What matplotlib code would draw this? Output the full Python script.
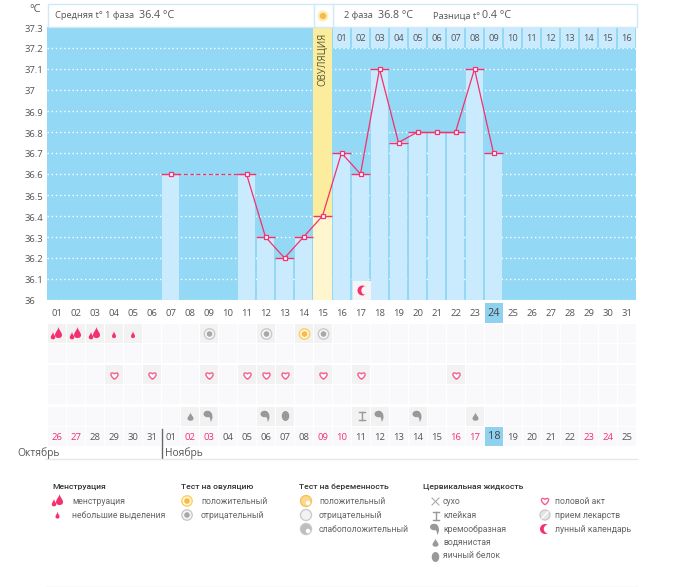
import matplotlib
matplotlib.use("Agg")
import matplotlib.pyplot as plt
from matplotlib.patches import Rectangle, Circle, Ellipse, PathPatch
from matplotlib.path import Path

# ---------- data ----------
days = [7, 11, 12, 13, 14, 15, 16, 17, 18, 19, 20, 21, 22, 23, 24]
temps = [36.6, 36.6, 36.3, 36.2, 36.3, 36.4, 36.7, 36.6, 37.1, 36.75, 36.8, 36.8, 36.8, 37.1, 36.7]
ovulation_day = 15
y_ticks = [36, 36.1, 36.2, 36.3, 36.4, 36.5, 36.6, 36.7, 36.8, 36.9, 37, 37.1, 37.2, 37.3]
y_labels = ["36", "36.1", "36.2", "36.3", "36.4", "36.5", "36.6", "36.7", "36.8", "36.9", "37", "37.1", "37.2", "37.3"]
phase2_labels = [f"{i:02d}" for i in range(1, 17)]
cycle_days = list(range(1, 32))
calendar_labels = ["26", "27", "28", "29", "30", "31"] + [f"{i:02d}" for i in range(1, 26)]
red_dates = {"26", "27", "02", "03", "09", "10", "16", "17", "23", "24"}
today = 24

menses_heavy = [1, 2, 3]
menses_light = [4, 5]
ovu_negative = [9, 12, 15]
ovu_positive = [14]
intercourse = [4, 6, 9, 11, 12, 13, 15, 17, 22]
fluid_watery = [8, 23]
fluid_creamy = [9, 12, 18, 20]
fluid_egg = [13]
fluid_sticky = [17]
moon_days = [17]

legend_groups = [
    ("Менструация", 52, 72, ["менструация", "небольшие выделения"]),
    ("Тест на овуляцию", 181, 201, ["положительный", "отрицательный"]),
    ("Тест на беременность", 299, 319, ["положительный", "отрицательный", "слабоположительный"]),
    ("Цервикальная жидкость", 423, 443, ["сухо", "клейкая", "кремообразная", "водянистая", "яичный белок"]),
    ("", 0, 555, ["половой акт", "прием лекарств", "лунный календарь"]),
]

# ---------- palette ----------
SKY = "#93d8f5"
PALE = "#c9ebfd"
PINK = "#f5306e"
TXT = "#555555"
GREY = "#999999"

W, H = 675, 587
plt.rcParams["font.family"] = ["Open Sans", "DejaVu Sans"]
fig = plt.figure(figsize=(W / 100, H / 100), dpi=100, facecolor="white")

# ---------- pixel overlays ----------
under = fig.add_axes([0, 0, 1, 1], zorder=0)
under.set_xlim(0, W); under.set_ylim(H, 0); under.axis("off")
px = fig.add_axes([0, 0, 1, 1], zorder=5)
px.set_xlim(0, W); px.set_ylim(H, 0); px.axis("off"); px.patch.set_alpha(0)


def t(x, y, s, size=9.3, color=TXT, ha="left", **kw):
    px.text(x, y, s, fontsize=size * 0.72, color=color, ha=ha, va="center", **kw)


def colx(d):
    return 57 + 19 * (d - 1)


def drop(cx, cy, w, h, color=PINK, ax=px):
    top, bot = cy - h / 2, cy + h / 2
    verts = [(cx, top), (cx + w * 0.1, top + h * 0.3), (cx + w / 2, top + h * 0.45), (cx + w / 2, top + h * 0.68),
             (cx + w / 2, bot), (cx - w / 2, bot), (cx - w / 2, top + h * 0.68),
             (cx - w / 2, top + h * 0.45), (cx - w * 0.1, top + h * 0.3), (cx, top)]
    codes = [Path.MOVETO] + [Path.CURVE4] * 9
    ax.add_patch(PathPatch(Path(verts, codes), fc=color, ec="none"))


def flame(cx, cy):
    drop(cx + 1.5, cy - 1, 7, 12)
    drop(cx - 4, cy + 2, 4.5, 8)


def small_drop(cx, cy):
    drop(cx, cy, 4, 7.5)


def ovu_test(cx, cy, positive):
    ring = "#fbd05a" if positive else "#c9c9c9"
    core = "#f7b84d" if positive else "#a8a8a8"
    px.add_patch(Circle((cx, cy), 5.2, fc="#fff7dc" if positive else "#f7f7f7", ec=ring, lw=1.0))
    px.add_patch(Circle((cx, cy), 2.8, fc=core, ec="none"))


def heart(cx, cy, s=3.8):
    v = [(cx, cy + s), (cx - s * 1.5, cy - s * 0.1), (cx - s * 1.0, cy - s * 1.15), (cx, cy - s * 0.45),
         (cx + s * 1.0, cy - s * 1.15), (cx + s * 1.5, cy - s * 0.1), (cx, cy + s)]
    px.add_patch(PathPatch(Path(v, [Path.MOVETO] + [Path.CURVE4] * 6), fc="white", ec="#f75c8e", lw=1.0))


def comma(cx, cy):
    px.add_patch(Ellipse((cx - 1, cy - 2), 8, 6.5, fc=GREY, ec="none"))
    v = [(cx - 0.5, cy - 5), (cx + 5, cy - 4), (cx + 5, cy + 3), (cx + 2, cy + 6),
         (cx + 2.5, cy + 2), (cx + 0, cy + 0), (cx - 1, cy), (cx - 0.5, cy - 5)]
    c = [Path.MOVETO] + [Path.CURVE4] * 6 + [Path.LINETO]
    px.add_patch(PathPatch(Path(v, c), fc=GREY, ec="none"))


def sticky(cx, cy):
    px.plot([cx - 3, cx + 3], [cy - 4, cy - 4], color=GREY, lw=1)
    px.plot([cx - 3, cx + 3], [cy + 4, cy + 4], color=GREY, lw=1)
    px.plot([cx, cx], [cy - 4, cy + 4], color=GREY, lw=1)


def egg(cx, cy):
    px.add_patch(Ellipse((cx, cy), 7.5, 10, fc=GREY, ec="none"))


def moon(cx, cy, bg="#f6f4f5"):
    px.add_patch(Circle((cx, cy), 5, fc=PINK, ec="none"))
    px.add_patch(Circle((cx + 3.2, cy), 4.4, fc=bg, ec="none"))


# ---------- temperature chart ----------
ax = fig.add_axes([47 / W, 1 - 300 / H, 589 / W, 273 / H], zorder=2)
ax.set_xlim(0.5, 31.5)
ax.set_ylim(36, 37.3)
ax.set_facecolor(SKY)
for s in ax.spines.values():
    s.set_visible(False)
ax.set_xticks([]); ax.set_yticks([])
for y in y_ticks[:-1]:
    ax.axhline(y, color="white", lw=1, ls=(0, (1, 2)), zorder=1)

for d, v in zip(days, temps):
    if d == ovulation_day:
        ax.bar(d, 37.3 - 36, bottom=36, width=1.0, color="#fcec9e", zorder=2)
        ax.bar(d, v - 36, bottom=36, width=1.0, color="#fff5cf", zorder=2.1)
    else:
        ax.bar(d, v - 36, bottom=36, width=0.93, color=PALE, zorder=2)
    ax.plot([d - 0.48, d + 0.48], [v, v], color=PINK, lw=1, zorder=3, solid_capstyle="butt")

for i, lab in enumerate(phase2_labels):
    d = ovulation_day + 1 + i
    ax.bar(d, 0.1, bottom=37.2, width=0.93, color=PALE, zorder=2)
    ax.text(d, 37.245, lab, fontsize=6.7, color=TXT, ha="center", va="center", zorder=3)

ax.text(ovulation_day, 37.147, "ОВУЛЯЦИЯ", rotation=90, fontsize=6.9, color="#555533",
        ha="center", va="center", zorder=4)

for (d0, v0, d1, v1) in zip(days[:-1], temps[:-1], days[1:], temps[1:]):
    ls = (0, (3, 2)) if d1 - d0 > 1 else "-"
    ax.plot([d0, d1], [v0, v1], color=PINK, lw=0.9, ls=ls, zorder=4)
ax.plot(days, temps, ls="none", marker="s", ms=3.4, mfc="white", mec=PINK, mew=0.9, zorder=5)

# y labels
for yv, lab in zip(y_ticks, y_labels):
    t(25, 300 - (yv - 36) * 210 + 2, lab, size=9.5, color=TXT)
t(29, 9, "°C", size=11, color=TXT)

# ---------- header ----------
px.add_patch(Rectangle((47.5, 3.5), 589, 23.5, fc="white", ec="#cfe9f7", lw=1))
px.plot([313.5, 313.5], [3.5, 27], color="#cfe9f7", lw=1)
px.plot([332.5, 332.5], [3.5, 27], color="#cfe9f7", lw=1)
px.add_patch(Circle((323, 16), 5.5, fc="#fdeeb5", ec="none"))
px.add_patch(Circle((323, 16), 3.2, fc="#f7b84d", ec="none"))
t(55, 16, "Средняя t° 1 фаза", size=9.3)
t(139, 15.5, "36.4 °C", size=10.8)
t(344, 16, "2 фаза", size=9.3)
t(378, 15.5, "36.8 °C", size=10.8)
t(433, 16, "Разница t°", size=9.3)
t(482, 15.5, "0.4 °C", size=10.8)

# moon in chart
for d in moon_days:
    px.add_patch(Rectangle((colx(d) - 8, 281), 18, 19, fc="#f6f4f5", ec="none"))
    moon(colx(d) + 1.5, 290.5)

# ---------- rows below chart ----------
row_tops = [324, 344, 364.5, 385, 406.5, 427]
row_h = 19
highlight = {
    0: menses_heavy + menses_light + ovu_negative + ovu_positive,
    2: intercourse,
    4: fluid_watery + fluid_creamy + fluid_egg + fluid_sticky,
}
for r, top in enumerate(row_tops):
    for d in cycle_days:
        on = d in highlight.get(r, [])
        under.add_patch(Rectangle((colx(d) - 9, top), 18, row_h, fc="#f2f2f2" if on else "#f9f8fa", ec="none"))

ROW1, ROW3, ROW5 = 334, 375, 416
for d in menses_heavy:
    flame(colx(d), ROW1)
for d in menses_light:
    small_drop(colx(d), ROW1 + 1)
for d in ovu_negative:
    ovu_test(colx(d) + 0.5, ROW1, False)
for d in ovu_positive:
    ovu_test(colx(d) + 0.5, ROW1, True)
for d in intercourse:
    heart(colx(d) + 0.5, ROW3 + 0.5)
for d in fluid_watery:
    drop(colx(d) + 0.5, ROW5 + 1, 6, 9, color=GREY)
for d in fluid_creamy:
    comma(colx(d) - 0.5, ROW5)
for d in fluid_egg:
    egg(colx(d) + 0.5, ROW5)
for d in fluid_sticky:
    sticky(colx(d) + 0.5, ROW5)

# today highlight boxes
tx = colx(today) - 9
under.add_patch(Rectangle((tx, 303), 18, 20, fc="#8fd2f0", ec="none"))
under.add_patch(Rectangle((tx, 427), 18, 19, fc="#8fd2f0", ec="none"))

for d, cal in zip(cycle_days, calendar_labels):
    is_today = d == today
    t(colx(d), 313, f"{d:02d}", size=11 if is_today else 9.5, ha="center", color="#444444" if is_today else TXT)
    c = "#444444" if is_today else (PINK if cal in red_dates else TXT)
    t(colx(d), 436.5 if is_today else 438, cal, size=11 if is_today else 9.5, ha="center", color=c)

# months
t(17, 453, "Октябрь", size=10.3)
t(165, 453, "Ноябрь", size=10.3)
px.plot([161.5, 161.5], [429, 458], color="#666666", lw=1)
px.plot([46, 637], [458.5, 458.5], color="#e8e8e8", lw=1)
px.plot([46, 637], [586.5, 586.5], color="#e8e8e8", lw=1)

# ---------- legend ----------
leg_y = [501, 515, 529, 542.5, 556]
for title, tx_, ix, items in legend_groups:
    if title:
        t(tx_, 487, title, size=8.5, color="#333333", fontweight="medium", family="Roboto")
    for y, s in zip(leg_y, items):
        t(ix, y, s, size=8.6, color="#666666", family="Roboto")

flame(58, 501)
small_drop(57.5, 515.5)
ovu_test(187, 501, True)
ovu_test(187, 515, False)
# pregnancy test icons
px.add_patch(Circle((306, 501), 5.5, fc="#fbd98a", ec="#f7c25c", lw=1))
px.add_patch(Circle((308, 503), 2.3, fc="white", ec="none"))
px.add_patch(Circle((306, 515), 5.5, fc="#f2f2f2", ec="#cccccc", lw=1))
px.add_patch(Circle((306, 529), 5.5, fc="#bdbdbd", ec="#c8c8c8", lw=1))
px.add_patch(Circle((308, 531), 2.3, fc="white", ec="none"))
# fluid icons
px.plot([432, 439], [498, 505], color="#aaaaaa", lw=0.8)
px.plot([432, 439], [505, 498], color="#aaaaaa", lw=0.8)
sticky(435.5, 515.5)
comma(435, 529)
drop(435.5, 543, 6, 9, color=GREY)
egg(435.5, 557)
# misc icons
heart(545, 501)
px.add_patch(Circle((545, 515), 5, fc="#e4e4e4", ec="#cccccc", lw=1))
px.plot([542, 548], [518, 512], color="white", lw=1)
moon(545, 529, bg="white")

fig.savefig("out.png", dpi=100, facecolor="white")
